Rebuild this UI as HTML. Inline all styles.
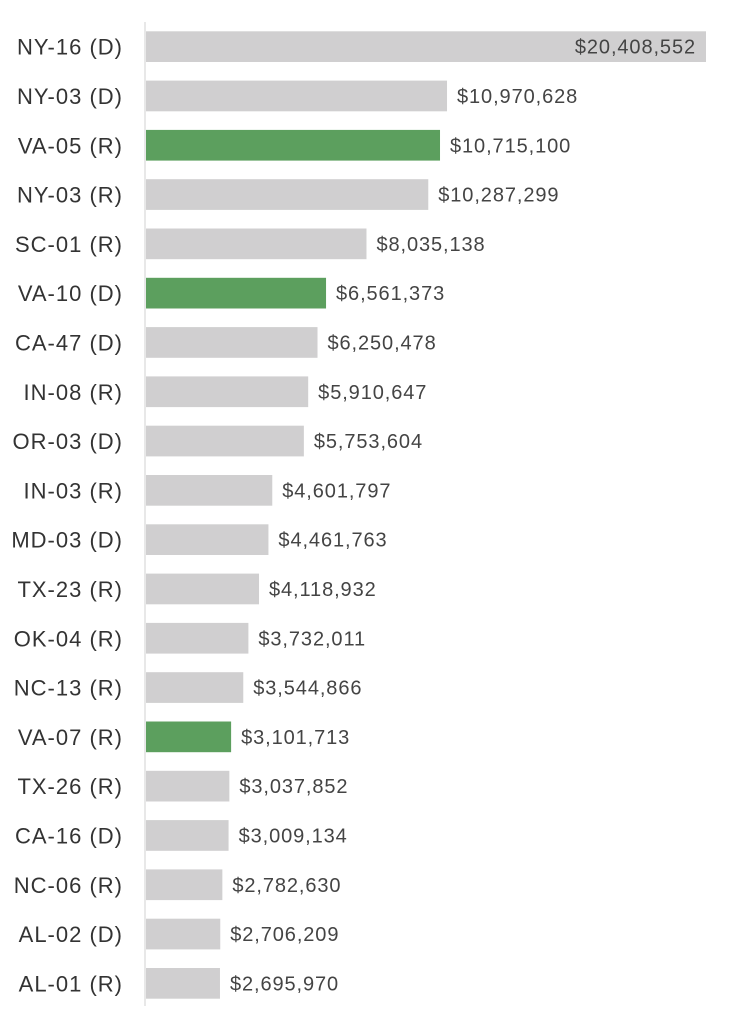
<!DOCTYPE html>
<html><head><meta charset="utf-8"><style>
body{margin:0;background:#fff;width:739px;height:1024px;overflow:hidden}
svg text{font-family:"Liberation Sans",Arial,sans-serif}
</style></head><body>
<svg id="chart" width="739" height="1024" xmlns="http://www.w3.org/2000/svg">
<line x1="145" y1="22" x2="145" y2="1006" stroke="#d8d8d8" stroke-width="1.2"/>
<g id="bars"></g>
</svg>
<script>
const categories=["NY-16 (D)","NY-03 (D)","VA-05 (R)","NY-03 (R)","SC-01 (R)","VA-10 (D)","CA-47 (D)","IN-08 (R)","OR-03 (D)","IN-03 (R)","MD-03 (D)","TX-23 (R)","OK-04 (R)","NC-13 (R)","VA-07 (R)","TX-26 (R)","CA-16 (D)","NC-06 (R)","AL-02 (D)","AL-01 (R)"];
const values=[20408552,10970628,10715100,10287299,8035138,6561373,6250478,5910647,5753604,4601797,4461763,4118932,3732011,3544866,3101713,3037852,3009134,2782630,2706209,2695970];
const highlighted=["VA-05 (R)","VA-10 (D)","VA-07 (R)"];
const x0=146,xMax=706,y0=31.3,step=49.3,bh=30.7;
const maxV=Math.max(...values);
const xs=v=>x0+(v/maxV)*(xMax-x0);
const fmt=v=>"$"+v.toLocaleString("en-US");
const g=document.getElementById("bars");
const NS="http://www.w3.org/2000/svg";
categories.forEach((c,i)=>{
  const y=y0+i*step,w=xs(values[i])-x0;
  const r=document.createElementNS(NS,"rect");
  
  
  r.setAttribute("x",x0);r.setAttribute("y",y);r.setAttribute("width",w);r.setAttribute("height",bh);
  r.setAttribute("fill",highlighted.includes(c)?"#5c9f5e":"#d0cfd0");
  g.appendChild(r);
  const t=document.createElementNS(NS,"text");
  
  
  t.setAttribute("x",123);t.setAttribute("y",y+bh/2+8);t.setAttribute("text-anchor","end");
  t.setAttribute("font-size","22");t.setAttribute("letter-spacing","1");t.setAttribute("fill","#333");
  t.textContent=c;g.appendChild(t);
  const v=document.createElementNS(NS,"text");
  
  
  const inside=w>500;
  v.setAttribute("x",inside?x0+w-10:x0+w+10);
  v.setAttribute("text-anchor",inside?"end":"start");
  v.setAttribute("y",y+bh/2+7);v.setAttribute("font-size","20");v.setAttribute("letter-spacing","0.9");v.setAttribute("fill","#444");
  v.textContent=fmt(values[i]);g.appendChild(v);
});
</script>
</body></html>
